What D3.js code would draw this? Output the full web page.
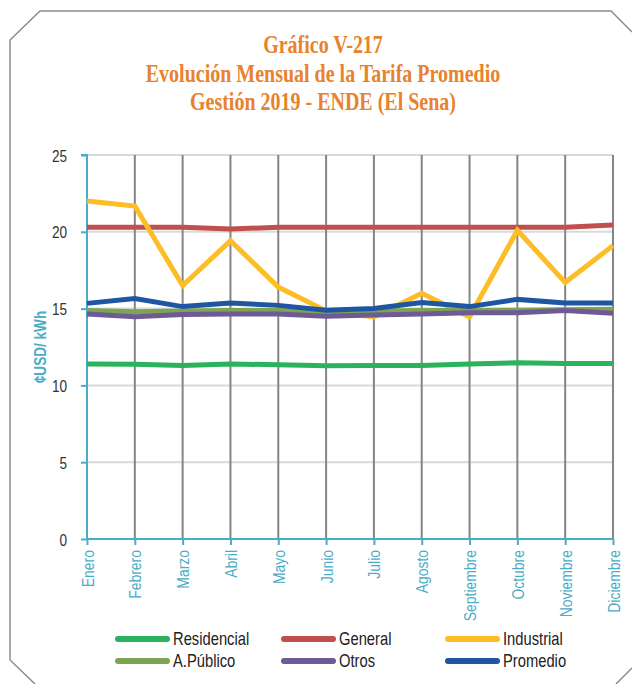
<!DOCTYPE html>
<html><head><meta charset="utf-8">
<script src="https://cdn.jsdelivr.net/npm/d3@7/dist/d3.min.js"></script>
<style>body{margin:0;background:#fff}svg{display:block}</style>
</head><body>
<svg id="c" width="632" height="684"></svg>
<script>
const months = ["Enero","Febrero","Marzo","Abril","Mayo","Junio","Julio","Agosto","Septiembre","Octubre","Noviembre","Diciembre"];
const yTicks = [0,5,10,15,20,25];
const seriesNames = ["Residencial","General","Industrial","A.Público","Otros","Promedio"];
const residencial = [11.39,11.38,11.30,11.39,11.35,11.28,11.30,11.30,11.39,11.48,11.43,11.43];
const general     = [20.29,20.30,20.30,20.18,20.30,20.30,20.30,20.30,20.30,20.30,20.30,20.44];
const industrial  = [22.0,21.68,16.5,19.42,16.4,14.85,14.45,16.0,14.45,20.1,16.7,19.1];
const aPublico    = [14.87,14.80,14.85,14.87,14.87,14.80,14.85,14.88,14.88,14.90,14.92,14.95];
const otros       = [14.65,14.47,14.62,14.65,14.65,14.50,14.58,14.65,14.73,14.73,14.87,14.69];
const promedio    = [15.34,15.65,15.13,15.36,15.21,14.90,15.00,15.39,15.13,15.60,15.36,15.36];
const colors = ["#2ab35c","#c0504d","#fdbd26","#7da353","#6e5b95","#1f56a3"];
const titleLines = ["Gráfico V-217","Evolución Mensual de la Tarifa Promedio","Gestión 2019 - ENDE (El Sena)"];
const yTitle = "¢USD/ kWh";

const data = [residencial, general, industrial, aPublico, otros, promedio];
const svg = d3.select("#c");
const L = 87, R = 613, T = 155, B = 539;
const x = d3.scalePoint().domain(months).range([L, R]);
const y = d3.scaleLinear().domain([0,25]).range([B, T]);
const teal = "#4bacc6";
const condSans = "'Liberation Sans', Arial, sans-serif";

// frame
svg.append("path")
  .attr("d", "M10,660 L10,40 L40,11 L611,11 L632,32 M632,668 L616,684 M35,684 L10,660")
  .attr("fill","none").attr("stroke","#8c8c8c").attr("stroke-width",1.5);

// title
titleLines.forEach((t,i)=>{
  svg.append("g").attr("transform",`translate(323,${53+i*28.5}) scale(0.8,1)`)
    .append("text").attr("text-anchor","middle")
    .attr("font-family","'Liberation Serif','Times New Roman',serif").attr("font-weight","bold")
    .attr("font-size",25).attr("fill","#e8822c").text(t);
});

// horizontal gridlines
svg.append("g").selectAll("line").data(yTicks.filter(d=>d>0)).join("line")
  .attr("x1",L).attr("x2",R).attr("y1",d=>y(d)).attr("y2",d=>y(d))
  .attr("stroke","#d9d9d9").attr("stroke-width",2);
// vertical gridlines
svg.append("g").selectAll("line").data(months.slice(1)).join("line")
  .attr("x1",d=>x(d)).attr("x2",d=>x(d)).attr("y1",T).attr("y2",B)
  .attr("stroke","#858585").attr("stroke-width",2);

// y axis
const ya = svg.append("g").attr("transform",`translate(${L},0)`)
  .call(d3.axisLeft(y).tickValues(yTicks).tickSize(6).tickFormat(d3.format("d")));
ya.select(".domain").attr("stroke",teal).attr("stroke-width",2).attr("d",`M-6,${T}H0V${B}`);
ya.selectAll(".tick line").attr("stroke",teal).attr("stroke-width",2);
ya.selectAll(".tick text").each(function(d){
  d3.select(this).attr("x",null).attr("dy",null).attr("text-anchor","end")
   .attr("transform",`translate(-20,6) scale(0.8,1)`)
   .attr("font-family",condSans).attr("font-size",17).attr("fill","#333");
});

// x axis
const xa = svg.append("g").attr("transform",`translate(0,${B})`)
  .call(d3.axisBottom(x).tickSize(6));
xa.select(".domain").attr("stroke",teal).attr("stroke-width",2).attr("d",`M${L},0H${R}`);
xa.selectAll(".tick line").attr("stroke",teal).attr("stroke-width",2);
xa.selectAll(".tick text").attr("y",null).attr("dy",null)
  .attr("text-anchor","end").attr("transform","translate(6,11) rotate(-90) scale(0.82,1)")
  .attr("font-family",condSans).attr("font-size",17).attr("fill",teal);

// y title
svg.append("g").attr("transform","translate(46,347) rotate(-90) scale(0.8,1)")
  .append("text").attr("text-anchor","middle").attr("font-family",condSans)
  .attr("font-weight","bold").attr("font-size",17).attr("fill",teal).text(yTitle);

// lines
const line = d3.line().x((d,i)=>x(months[i])).y(d=>y(d));
svg.append("g").selectAll("path").data(data).join("path")
  .attr("d",line).attr("fill","none").attr("stroke",(d,i)=>colors[i])
  .attr("stroke-width",5).attr("stroke-linejoin","miter");

// legend
const legX = [115,281,445], legY = [639,661];
seriesNames.forEach((n,i)=>{
  const cx = legX[i%3], cy = legY[Math.floor(i/3)];
  svg.append("line").attr("x1",cx+3).attr("x2",cx+52).attr("y1",cy).attr("y2",cy)
    .attr("stroke",colors[i]).attr("stroke-width",6).attr("stroke-linecap","round");
  svg.append("g").attr("transform",`translate(${cx+58},${cy+6}) scale(0.82,1)`)
    .append("text").attr("font-family",condSans).attr("font-size",18).attr("fill","#222").text(n);
});
</script>
</body></html>
